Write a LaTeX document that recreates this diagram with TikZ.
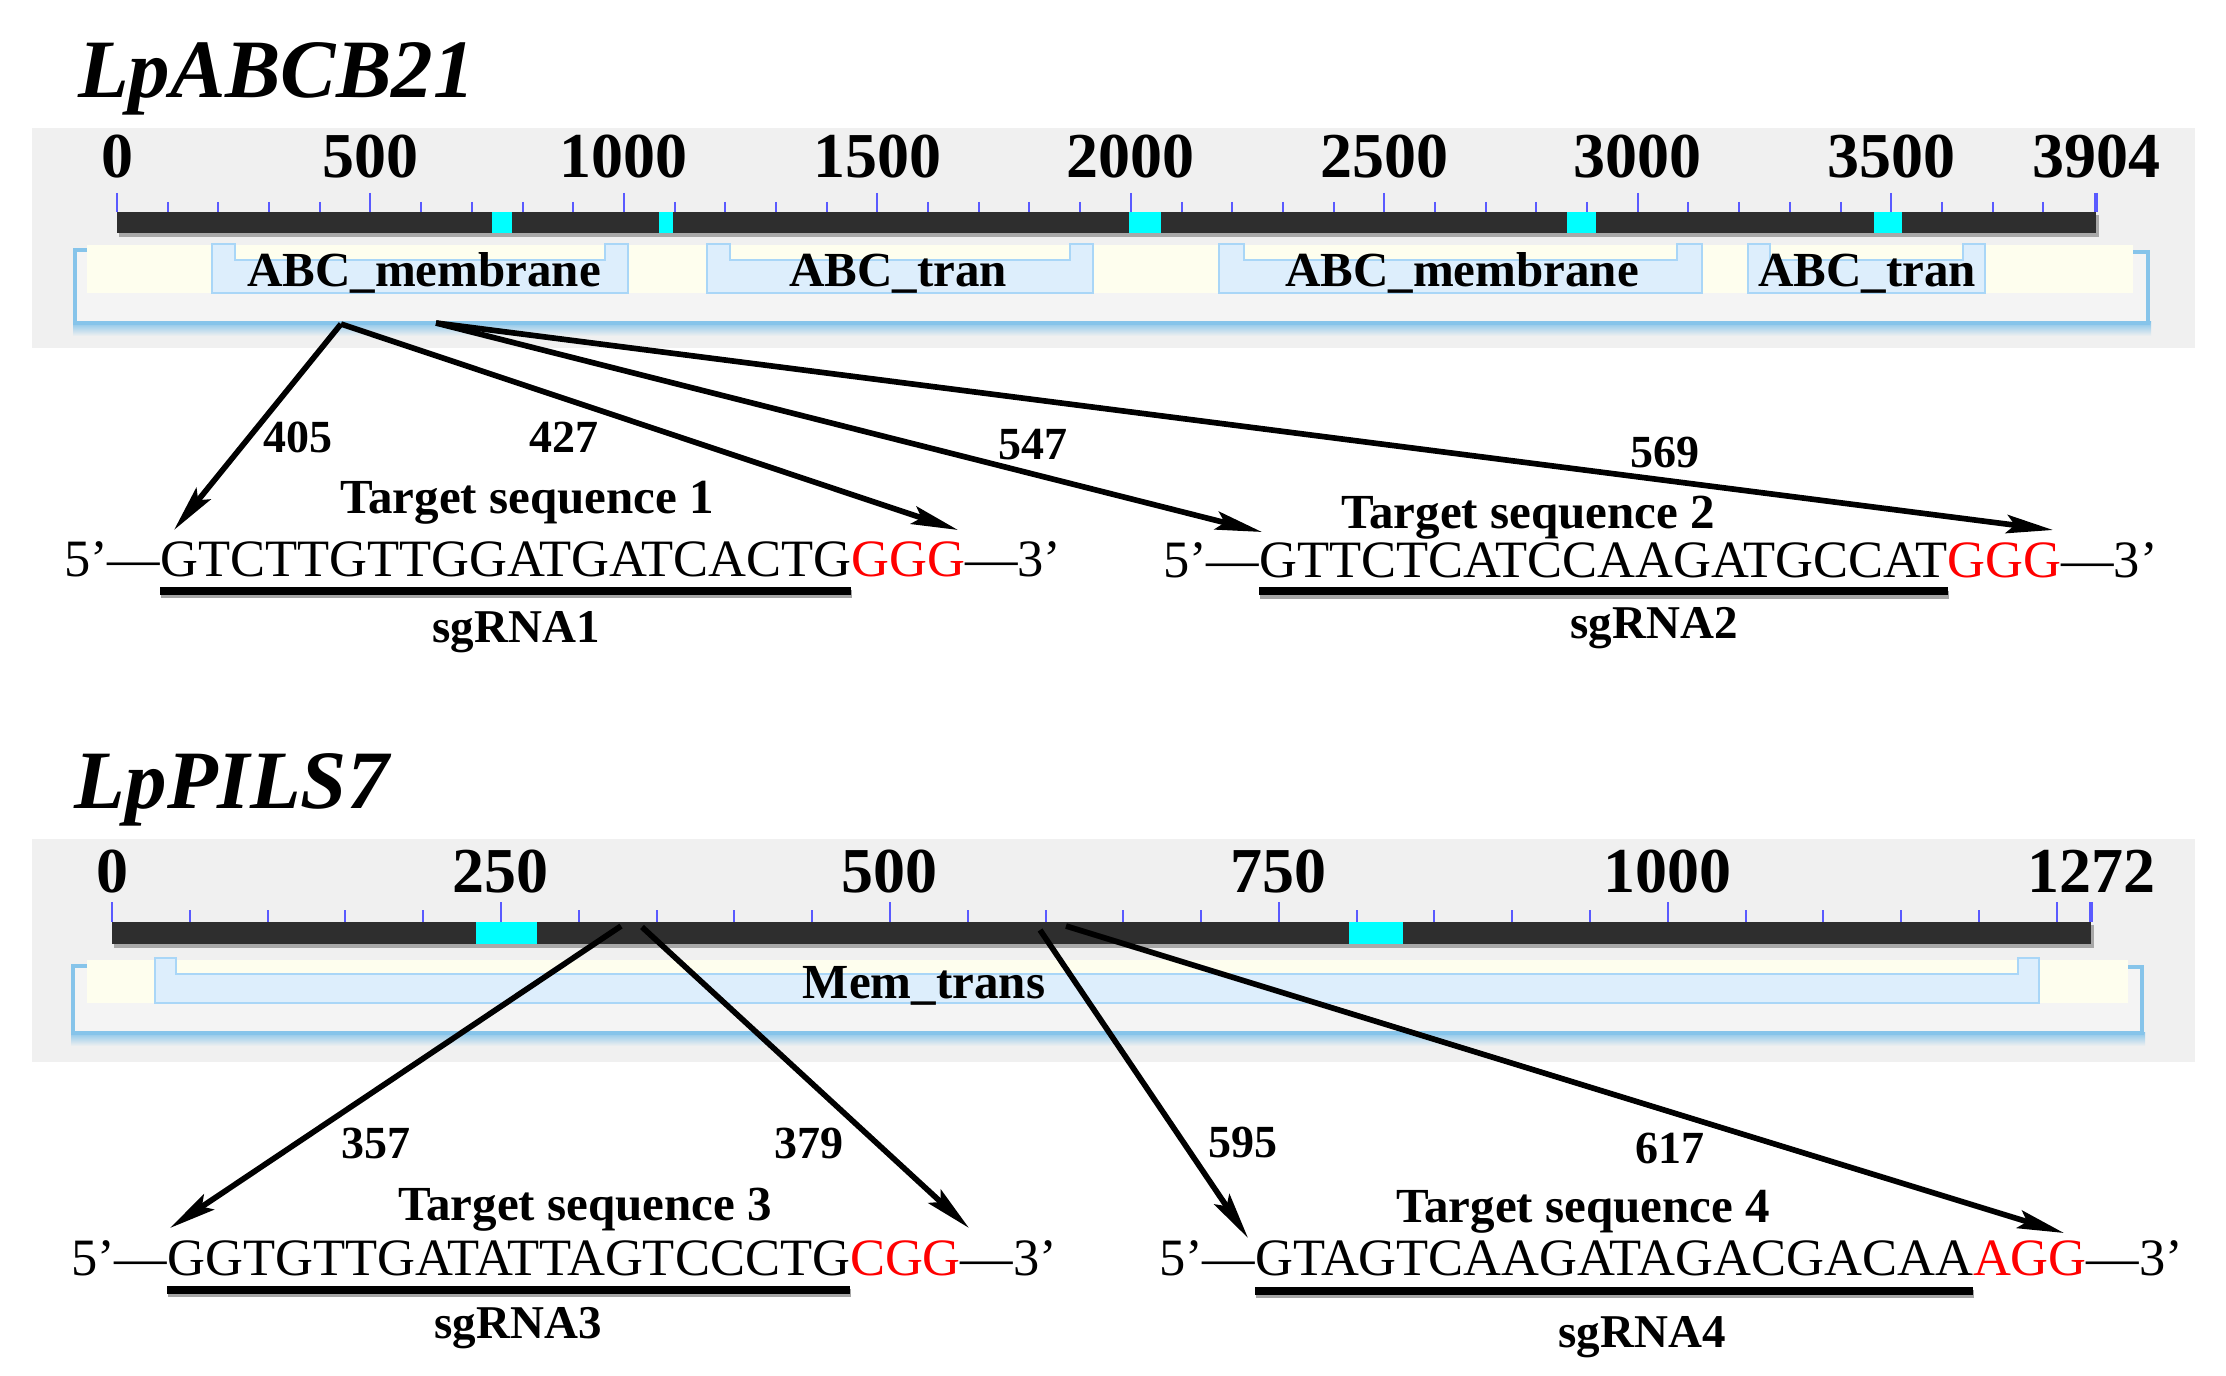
\documentclass[tikz,border=0pt]{standalone}
\usepackage{fontspec}
\setmainfont{Liberation Serif}
\usetikzlibrary{arrows.meta,calc}
\definecolor{panelgrey}{HTML}{F0F0F0}
\definecolor{framefill}{HTML}{F4F4F4}
\definecolor{creamc}{HTML}{FEFEEE}
\definecolor{framecol}{HTML}{86C4EA}
\definecolor{domfill}{HTML}{DDEEFC}
\definecolor{domline}{HTML}{A9D6F7}
\definecolor{bardark}{HTML}{2E2E2E}
\definecolor{barshadow}{HTML}{A8A8A8}
\definecolor{cyanblk}{HTML}{00FFFF}
\definecolor{tickblue}{HTML}{5A5AFF}
\definecolor{pamred}{HTML}{FF0000}
\newcommand\domainshape[6]{% x1 x2 tab ytop yin ybot
  \draw[domstyle] (#1,#6) -- (#1,#4) -- ({#1+#3},#4) -- ({#1+#3},#5) -- ({#2-#3},#5) -- ({#2-#3},#4) -- (#2,#4) -- (#2,#6) -- cycle;}
\begin{document}
\begin{tikzpicture}[x=0.3pt,y=-0.3pt,
  txt/.style={inner sep=0pt, outer sep=0pt},
  gtitle/.style={txt, anchor=base west, font=\fontsize{24.9}{26}\selectfont\bfseries\itshape},
  ticklab/.style={txt, anchor=base, font=\fontsize{19.2}{20}\selectfont\bfseries},
  domlab/.style={txt, anchor=base, font=\fontsize{14.7}{16}\selectfont\bfseries},
  seqtxt/.style={txt, anchor=base west, font=\fontsize{15.75}{17}\selectfont},
  numlab/.style={txt, anchor=base, font=\fontsize{13.8}{15}\selectfont\bfseries},
  tslab/.style={txt, anchor=base, font=\fontsize{14.7}{16}\selectfont\bfseries},
  sglab/.style={txt, anchor=base, font=\fontsize{14.1}{15}\selectfont\bfseries},
  arr/.style={line width=1.7pt, -{Stealth[length=14pt,width=5.5pt,inset=2.5pt]}},
  domstyle/.style={fill=domfill, draw=domline, line width=0.6pt},
  majtick/.style={draw=tickblue, line width=0.6pt},
  ulbar/.style={line width=2.4pt, black},
  ulshadow/.style={line width=2.4pt, black!35},
]
\useasboundingbox (0,0) rectangle (2226,1376);

% ================= Panel 1 =================
\node[gtitle] (t1) at (78,98) {LpABCB21};
\fill[panelgrey] (32,128) rectangle (2195,348);
% bar
\fill[barshadow] (119,215) rectangle (2099,237);
\fill[bardark] (117,212) rectangle (2096,233);
\foreach \a/\b in {492/512,659/673,1129/1161,1567/1596,1874/1902}
  \fill[cyanblk] (\a,212) rectangle (\b,233);
\foreach \i [evaluate=\i as \xx using 117+\i*50.6916] in {0,...,38}{
  \pgfmathtruncatemacro{\m}{mod(\i,5)}
  \ifnum\m=0 \draw[majtick] (\xx,193) -- (\xx,212);
  \else \draw[majtick] (\xx,202) -- (\xx,212); \fi }
\draw[majtick, line width=1pt] (2096,193) -- (2096,212);
\foreach \v [evaluate=\v as \xx using 117+\v*0.506916] in {0,500,1000,1500,2000,2500,3000,3500}
  \node[ticklab] (tl\v) at (\xx,178) {\v};
\node[ticklab] (tlend) at (2096,178) {3904};
% domain track
\shade[top color=framecol, bottom color=panelgrey] (73,322) rectangle (2151,336);
\fill[framefill] (75,250) rectangle (2148,323);
\fill[creamc] (87,245) rectangle (2133,293);
\draw[framecol, line width=1pt] (87,250) -- (75,250) -- (75,323) -- (2148,323) -- (2148,252) -- (2133,252);
\domainshape{212}{628}{23}{244}{260}{293}
\domainshape{707}{1093}{23}{244}{260}{293}
\domainshape{1219}{1702}{25}{244}{260}{293}
\domainshape{1748}{1985}{22}{244}{260}{293}
\node[domlab] (d1) at (424,287) {ABC\_membrane};
\node[domlab] (d2) at (898,287) {ABC\_tran};
\node[domlab] (d3) at (1462,287) {ABC\_membrane};
\node[domlab] (d4) at (1867,287) {ABC\_tran};
% arrows
\coordinate (p1) at (341,324);
\coordinate (p2) at (436,323);
\coordinate (e405) at (174,530);
\coordinate (e427) at (958,530);
\coordinate (e547) at (1262,532);
\coordinate (e569) at (2053,530);
\draw[arr] (p1) -- (e405);
\draw[arr] (p1) -- (e427);
\draw[arr] (p2) -- (e547);
\draw[arr] (p2) -- (e569);
\node[numlab] (n405) at (298,452) {405};
\node[numlab] (n427) at (564,452) {427};
\node[numlab] (n547) at (1033,459) {547};
\node[numlab] (n569) at (1665,467) {569};
\node[tslab] (ts1) at (527,513) {Target sequence 1};
\node[tslab] (ts2) at (1528,528) {Target sequence 2};
% sequences
\node[seqtxt] (s1a) at (64,576) {5’—};
\node[seqtxt] (s1b) at (s1a.base east) {GTCTTGTTGGATGATCACTG};
\node[seqtxt, text=pamred] (s1c) at (s1b.base east) {GGG};
\node[seqtxt] (s1d) at (s1c.base east) {—3’};
\draw[ulshadow] ($(s1b.base west)+(1,18)$) -- ($(s1b.base east)+(1,18)$);
\draw[ulbar] ($(s1b.base west)+(0,15)$) -- ($(s1b.base east)+(0,15)$);
\node[seqtxt] (s2a) at (1163,577) {5’—};
\node[seqtxt] (s2b) at (s2a.base east) {GTTCTCATCCAAGATGCCAT};
\node[seqtxt, text=pamred] (s2c) at (s2b.base east) {GGG};
\node[seqtxt] (s2d) at (s2c.base east) {—3’};
\draw[ulshadow] ($(s2b.base west)+(1,18)$) -- ($(s2b.base east)+(1,18)$);
\draw[ulbar] ($(s2b.base west)+(0,14)$) -- ($(s2b.base east)+(0,14)$);
\node[sglab] (sg1) at (516,642) {sgRNA1};
\node[sglab] (sg2) at (1654,638) {sgRNA2};

% ================= Panel 2 =================
\node[gtitle] (t2) at (75,808) {LpPILS7};
\fill[panelgrey] (32,839) rectangle (2195,1062);
\fill[barshadow] (114,925) rectangle (2094,948);
\fill[bardark] (112,922) rectangle (2091,944);
\foreach \a/\b in {476/537,1349/1403}
  \fill[cyanblk] (\a,922) rectangle (\b,944);
\foreach \i [evaluate=\i as \xx using 112+\i*77.7909] in {0,...,25}{
  \pgfmathtruncatemacro{\m}{mod(\i,5)}
  \ifnum\m=0 \draw[majtick] (\xx,902) -- (\xx,922);
  \else \draw[majtick] (\xx,910) -- (\xx,922); \fi }
\draw[majtick, line width=1pt] (2091,902) -- (2091,922);
\foreach \v [evaluate=\v as \xx using 112+\v*1.555818] in {0,250,500,750,1000}
  \node[ticklab] (ul\v) at (\xx,892) {\v};
\node[ticklab] (ulend) at (2091,892) {1272};
% domain track
\shade[top color=framecol, bottom color=panelgrey] (71,1032) rectangle (2145,1046);
\fill[framefill] (73,965) rectangle (2142,1033);
\fill[creamc] (87,960) rectangle (2128,1003);
\draw[framecol, line width=1pt] (87,966) -- (73,966) -- (73,1033) -- (2142,1033) -- (2142,967) -- (2128,967);
\domainshape{155}{2039}{21}{958}{974}{1003}
\node[domlab] (d5) at (924,998) {Mem\_trans};
% arrows
\coordinate (q1) at (621,926);
\coordinate (q2) at (642,927);
\coordinate (q3) at (1040,930);
\coordinate (q4) at (1066,926);
\coordinate (e357) at (170,1228);
\coordinate (e379) at (969,1228);
\coordinate (e595) at (1248,1238);
\coordinate (e617) at (2064,1233);
\draw[arr] (q1) -- (e357);
\draw[arr] (q2) -- (e379);
\draw[arr] (q3) -- (e595);
\draw[arr] (q4) -- (e617);
\node[numlab] (n357) at (376,1158) {357};
\node[numlab] (n379) at (809,1158) {379};
\node[numlab] (n595) at (1243,1157) {595};
\node[numlab] (n617) at (1670,1163) {617};
\node[tslab] (ts3) at (585,1220) {Target sequence 3};
\node[tslab] (ts4) at (1583,1222) {Target sequence 4};
\node[seqtxt] (s3a) at (71,1275) {5’—};
\node[seqtxt] (s3b) at (s3a.base east) {GGTGTTGATATTAGTCCCTG};
\node[seqtxt, text=pamred] (s3c) at (s3b.base east) {CGG};
\node[seqtxt] (s3d) at (s3c.base east) {—3’};
\draw[ulshadow] ($(s3b.base west)+(1,18)$) -- ($(s3b.base east)+(1,18)$);
\draw[ulbar] ($(s3b.base west)+(0,15)$) -- ($(s3b.base east)+(0,15)$);
\node[seqtxt] (s4a) at (1159,1275) {5’—};
\node[seqtxt] (s4b) at (s4a.base east) {GTAGTCAAGATAGACGACAA};
\node[seqtxt, text=pamred] (s4c) at (s4b.base east) {AGG};
\node[seqtxt] (s4d) at (s4c.base east) {—3’};
\draw[ulshadow] ($(s4b.base west)+(1,19)$) -- ($(s4b.base east)+(1,19)$);
\draw[ulbar] ($(s4b.base west)+(0,16)$) -- ($(s4b.base east)+(0,16)$);
\node[sglab] (sg3) at (518,1338) {sgRNA3};
\node[sglab] (sg4) at (1642,1347) {sgRNA4};
\end{tikzpicture}
\end{document}
